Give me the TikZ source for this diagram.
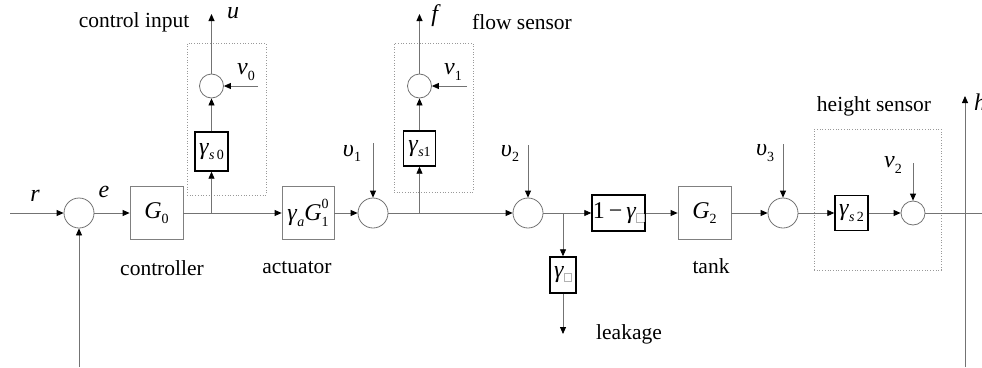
\documentclass[tikz,border=0pt]{standalone}
\usepackage{fontspec}
\setmainfont{Liberation Serif}
\usetikzlibrary{arrows.meta}
\newcommand\mf{\fontsize{24}{26}\selectfont}
\newcommand\wf{\fontsize{21.5}{24}\selectfont}
\newcommand\vi[1]{\textit{#1}}
\newcommand\sbs[1]{\raisebox{-0.22em}{\fontsize{14}{14}\selectfont #1}}
\newcommand\sps[1]{\raisebox{0.5em}{\fontsize{14}{14}\selectfont #1}}
\newcommand\gbox{\raisebox{-0.3ex}{\textcolor{black!30}{\setlength\fboxsep{0pt}\setlength\fboxrule{0.6pt}\fbox{\rule{0pt}{0.32em}\hspace{0.27em}}}}}
\begin{document}
\begin{tikzpicture}[x=1pt,y=-1pt,
  wire/.style={draw=black!55, line width=0.8pt},
  arr/.style={wire, -{Triangle[length=7pt,width=6pt,color=black]}},
  sumc/.style={circle, draw=black!55, line width=0.8pt, minimum size=30pt, inner sep=0},
  smc/.style={circle, draw=black!55, line width=0.8pt, minimum size=24pt, inner sep=0},
  blk/.style={draw=black!50, line width=0.8pt, inner sep=0, font=\mf},
  gblk/.style={draw=black, line width=1.4pt, inner sep=0, font=\mf},
  dotbox/.style={draw=black!40, dotted, line width=0.7pt, inner sep=0},
  mlab/.style={font=\mf, inner sep=0},
  wlab/.style={font=\wf, inner sep=0}]
\useasboundingbox (0,0) rectangle (982,367);

% dotted sensor frames
\node[dotbox, minimum width=79pt, minimum height=152pt] (fr0) at (226.5,119) {};
\node[dotbox, minimum width=79pt, minimum height=149pt] (fr1) at (433.5,117.5) {};
\node[dotbox, minimum width=127pt, minimum height=141pt] (fr2) at (877.5,199.5) {};

% main path blocks
\node[sumc] (s0) at (79,213) {};
\node[blk, minimum width=53pt, minimum height=53pt] (G0) at (156.5,213) {\vi{G}\sbs{0}};
\node[blk, minimum width=52pt, minimum height=53pt] (act) at (308,213) {\vi{γ}\sbs{\vi{a}}\vi{G}\rlap{\sps{0}}\sbs{1}};
\node[sumc] (s1) at (373,213) {};
\node[sumc] (s2) at (528,213) {};
\node[gblk, minimum width=53pt, minimum height=36pt] (lk) at (618.5,213) {1\,−\,\vi{γ}\gbox};
\node[gblk, minimum width=26pt, minimum height=36pt] (lg) at (563,275) {\vi{γ}\gbox};
\node[blk, minimum width=53pt, minimum height=53pt] (G2) at (704.5,213) {\vi{G}\sbs{2}};
\node[sumc] (s3) at (783,213) {};
\node[gblk, minimum width=33pt, minimum height=35pt] (gs2) at (851.5,213) {\vi{γ}\sbs{\vi{s}\,2}};
\node[smc] (c2) at (913,213) {};

% sensor branches
\node[gblk, minimum width=33pt, minimum height=39pt] (gs0) at (211.5,151.5) {\vi{γ}\sbs{\vi{s}\,0}};
\node[smc] (c0) at (211.5,86) {};
\node[gblk, minimum width=32pt, minimum height=35pt] (gs1) at (419.5,148.5) {\vi{γ}\sbs{\vi{s}1}};
\node[smc] (c1) at (419.5,86) {};

% coordinates
\coordinate (rin) at (10,213);
\coordinate (fb) at (79,367);
\coordinate (b0) at (211.5,213);
\coordinate (b1) at (419.5,213);
\coordinate (b2) at (563,213);
\coordinate (v0s) at (258,86);
\coordinate (v1s) at (467,86);
\coordinate (utop) at (211.5,14);
\coordinate (ftop) at (419.5,14);
\coordinate (u1s) at (373,143);
\coordinate (u2s) at (528,145);
\coordinate (u3s) at (783,144);
\coordinate (v2s) at (913,163);
\coordinate (lkend) at (563,334);
\coordinate (out) at (982,213);
\coordinate (hb) at (965,367);
\coordinate (ht) at (965,96);

% labels
\node[mlab] (rl) at (35,196) {\vi{r}};
\node[mlab] (el) at (104,192) {\vi{e}};
\node[wlab] (ctl) at (162,268) {controller};
\node[wlab] (acl) at (297,268) {actuator};
\node[wlab] (cil) at (134,22) {control input};
\node[mlab] (ul) at (233,13) {\vi{u}};
\node[mlab] (v0l) at (246,72) {\vi{ν}\sbs{0}};
\node[mlab] (u1l) at (352,153) {\vi{υ}\sbs{1}};
\node[mlab] (fl) at (436,16) {\vi{f}};
\node[wlab] (fsl) at (522,22) {flow sensor};
\node[mlab] (v1l) at (453,72) {\vi{ν}\sbs{1}};
\node[mlab] (u2l) at (510,153) {\vi{υ}\sbs{2}};
\node[wlab] (lkl) at (629,334) {leakage};
\node[wlab] (tkl) at (711,266) {tank};
\node[mlab] (u3l) at (765,153) {\vi{υ}\sbs{3}};
\node[wlab] (hsl) at (874,106) {height sensor};
\node[mlab] (v2l) at (893,165) {\vi{ν}\sbs{2}};
\node[mlab, anchor=west] (hl) at (974,102) {\vi{h}};

% connectors
\draw[arr] (rin) -- (s0);
\draw[arr] (fb) -- (s0);
\draw[arr] (s0) -- (G0);
\draw[arr] (G0) -- (act);
\draw[arr] (b0) -- (gs0);
\draw[arr] (gs0) -- (c0);
\draw[arr] (v0s) -- (c0);
\draw[arr] (c0) -- (utop);
\draw[arr] (act) -- (s1);
\draw[arr] (u1s) -- (s1);
\draw[arr] (s1) -- (s2);
\draw[arr] (b1) -- (gs1);
\draw[arr] (gs1) -- (c1);
\draw[arr] (v1s) -- (c1);
\draw[arr] (c1) -- (ftop);
\draw[arr] (u2s) -- (s2);
\draw[arr] (s2) -- (lk);
\draw[arr] (b2) -- (lg);
\draw[arr] (lg) -- (lkend);
\draw[arr] (lk) -- (G2);
\draw[arr] (G2) -- (s3);
\draw[arr] (u3s) -- (s3);
\draw[arr] (s3) -- (gs2);
\draw[arr] (gs2) -- (c2);
\draw[arr] (v2s) -- (c2);
\draw[wire] (c2) -- (out);
\draw[arr] (hb) -- (ht);
\end{tikzpicture}
\end{document}
